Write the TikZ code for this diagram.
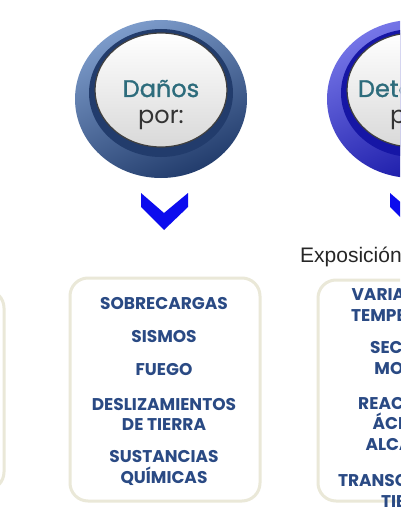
\documentclass[tikz,border=0pt]{standalone}
\usepackage{fontspec}
\setmainfont{Poppins}
\newfontfamily\arialfont{Liberation Sans}
\usepackage{xcolor}
\definecolor{dmgblue}{RGB}{70,104,158}
\definecolor{dmglight}{RGB}{125,156,203}
\definecolor{dmgdark}{RGB}{34,60,108}
\definecolor{detblue}{RGB}{62,62,205}
\definecolor{detlight}{RGB}{118,118,232}
\definecolor{detdark}{RGB}{22,22,165}
\definecolor{titleteal}{RGB}{45,108,124}
\definecolor{itemblue}{RGB}{42,74,132}
\definecolor{boxline}{RGB}{234,232,216}
\definecolor{chevblue}{RGB}{12,12,238}
\usepackage{tikz}
\usetikzlibrary{positioning}

\tikzset{
  itembox/.style={draw=boxline, line width=3pt, fill=white, rounded corners=18pt},
  itemtext/.style={font=\bfseries\fontsize{17}{20.5}\selectfont, text=itemblue, align=center, inner sep=0pt},
  disctitle/.style={font=\fontsize{24}{28}\selectfont\addfontfeature{FakeBold=1.2}, text=titleteal, inner sep=0pt},
  discsub/.style={font=\fontsize{24}{28}\selectfont, text=black!80, inner sep=0pt},
  chevron/.style={fill=chevblue}
}

\begin{document}
\begin{tikzpicture}[x=1pt, y=1pt]
\useasboundingbox (0,0) rectangle (400,-516);
\clip (0,0) rectangle (400,-516);
\fill[white] (0,0) rectangle (400,-516);

% === Disc 1: Danos ===
\shade[top color=dmglight, bottom color=dmgdark, shading angle=25] (161,-99) ellipse [x radius=86, y radius=79];
\fill[dmgdark] (161,-93) ellipse [x radius=72, y radius=64];
\shade[top color=white, bottom color=black!15, draw=black!75, line width=1.2pt] (161,-90) ellipse [x radius=66, y radius=57];
\node[disctitle, anchor=base] (danos) at (161,-97) {Daños};
\node[discsub, anchor=base] (danospor) at (161,-123) {por:};

% === Disc 2: Deterioro ===
\shade[top color=detlight, bottom color=detdark, shading angle=25] (413,-99) ellipse [x radius=86, y radius=79];
\fill[detdark] (413,-93) ellipse [x radius=72, y radius=64];
\shade[top color=white, bottom color=black!15, draw=black!75, line width=1.2pt] (413,-90) ellipse [x radius=66, y radius=57];
\node[disctitle, anchor=base] (deterioro) at (413,-97) {Deterioro};
\node[discsub, anchor=base] (deteriopor) at (413,-123) {por:};

% === Chevrons ===
\fill[chevron] (141,-193) -- (164,-213) -- (188,-193) -- (188,-207) -- (164,-230) -- (141,-207) -- cycle;
\fill[chevron] (390,-193) -- (413,-213) -- (437,-193) -- (437,-207) -- (413,-230) -- (390,-207) -- cycle;

\node[font=\arialfont\fontsize{21}{24}\selectfont, text=black!85, anchor=base west, inner sep=0pt] (exposicion) at (300,-262) {Exposición a:};

% === Boxes ===
\draw[itembox] (-100,-290) rectangle (4,-490);
\draw[itembox] (70,-278) rectangle (260,-501);
\draw[itembox] (318,-280) rectangle (508,-501);

% === Box 1 items ===
\node[itemtext] (sobrecargas) at (164,-304) {SOBRECARGAS};
\node[itemtext] (sismos) at (164,-337) {SISMOS};
\node[itemtext] (fuego) at (164,-370) {FUEGO};
\node[itemtext] (deslizamientos) at (164,-414.5) {DESLIZAMIENTOS\\DE TIERRA};
\node[itemtext] (sustancias) at (164,-468) {SUSTANCIAS\\QUÍMICAS};

% === Box 2 items ===
\node[itemtext] (variacion) at (413,-303) {VARIACIÓN DE\\TEMPERATURA};
\node[itemtext] (secado) at (413,-358) {SECADO Y\\MOJADO};
\node[itemtext] (reacciones) at (413,-424) {REACCIONES\\ÁCIDAS Y\\ALCALINAS};
\node[itemtext] (transcurso) at (413,-491) {TRANSCURSO DEL\\TIEMPO};

\end{tikzpicture}
\end{document}
